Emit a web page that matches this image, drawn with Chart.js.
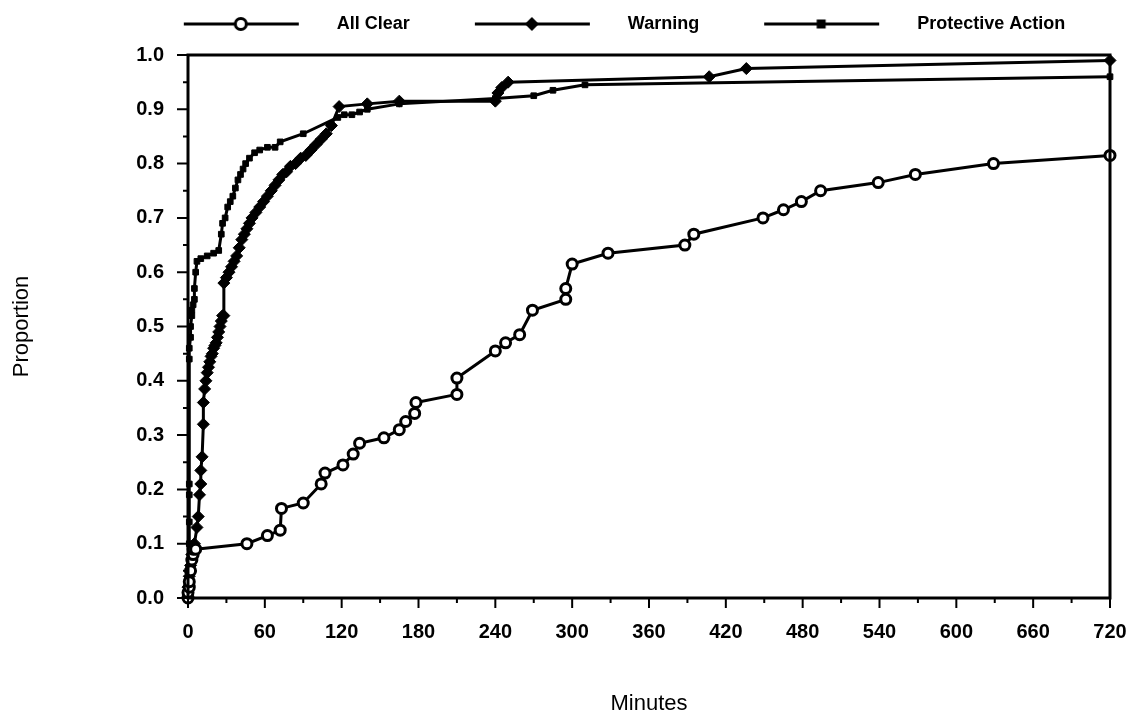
<!DOCTYPE html>
<html>
<head>
<meta charset="utf-8">
<script src="https://cdn.jsdelivr.net/npm/chart.js@4"></script>
<style>
  body { margin: 0; background: #fff; }
  #wrap { width: 1132px; height: 717px; position: relative; }
</style>
</head>
<body>
<div id="wrap"><canvas id="cdfChart"></canvas></div>
<script>
// cumulative proportions (minutes, proportion)
var allClearMin = [0, 0, 1, 1, 2, 3, 4, 4, 6, 46, 62, 72, 73, 90, 104, 107, 121, 129, 134, 153, 165, 170, 177, 178, 210, 210, 240, 248, 259, 269, 295, 295, 300, 328, 388, 395, 449, 465, 479, 494, 539, 568, 629, 720];
var allClearProp = [0, 0.01, 0.02, 0.03, 0.05, 0.07, 0.08, 0.09, 0.09, 0.10, 0.115, 0.125, 0.165, 0.175, 0.21, 0.23, 0.245, 0.265, 0.285, 0.295, 0.31, 0.325, 0.34, 0.36, 0.375, 0.405, 0.455, 0.47, 0.485, 0.53, 0.55, 0.57, 0.615, 0.635, 0.65, 0.67, 0.70, 0.715, 0.73, 0.75, 0.765, 0.78, 0.80, 0.815];

var warningMin = [0, 0, 1, 2, 3, 5, 7, 8, 9, 10, 10, 11, 12, 12, 13, 14, 15, 16, 17, 18, 19, 20, 21, 22, 23, 24, 25, 26, 27, 28, 28, 30, 32, 34, 36, 38, 40, 42, 44, 46, 48, 50, 53, 56, 59, 62, 65, 68, 71, 74, 77, 80, 84, 88, 92, 96, 100, 104, 108, 112, 118, 140, 165, 240, 242, 245, 250, 407, 436, 720];
var warningProp = [0, 0.02, 0.04, 0.06, 0.08, 0.10, 0.13, 0.15, 0.19, 0.21, 0.235, 0.26, 0.32, 0.36, 0.385, 0.40, 0.415, 0.425, 0.435, 0.445, 0.45, 0.46, 0.465, 0.47, 0.48, 0.49, 0.50, 0.51, 0.52, 0.52, 0.58, 0.59, 0.60, 0.61, 0.62, 0.63, 0.645, 0.66, 0.67, 0.68, 0.69, 0.70, 0.71, 0.72, 0.73, 0.74, 0.75, 0.76, 0.77, 0.78, 0.785, 0.795, 0.80, 0.81, 0.815, 0.825, 0.835, 0.845, 0.855, 0.87, 0.905, 0.91, 0.915, 0.915, 0.93, 0.94, 0.95, 0.96, 0.975, 0.99];

var protectMin = [0, 0, 0, 1, 1, 1, 1, 1, 1, 2, 2, 3, 3, 4, 5, 5, 6, 7, 10, 15, 20, 24, 26, 27, 29, 31, 33, 35, 37, 39, 41, 43, 45, 48, 52, 56, 62, 68, 72, 90, 117, 122, 128, 134, 140, 165, 240, 270, 285, 310, 720];
var protectProp = [0, 0.02, 0.05, 0.10, 0.14, 0.19, 0.21, 0.44, 0.46, 0.48, 0.50, 0.52, 0.53, 0.54, 0.55, 0.57, 0.60, 0.62, 0.625, 0.63, 0.635, 0.64, 0.67, 0.69, 0.70, 0.72, 0.73, 0.74, 0.755, 0.77, 0.78, 0.79, 0.80, 0.81, 0.82, 0.825, 0.83, 0.83, 0.84, 0.855, 0.885, 0.89, 0.89, 0.895, 0.90, 0.91, 0.92, 0.925, 0.935, 0.945, 0.96];

var seriesNames = ['All Clear', 'Warning', 'Protective Action'];
var xTickLabels = [0, 60, 120, 180, 240, 300, 360, 420, 480, 540, 600, 660, 720];

var FONT = "'Liberation Sans', Arial, sans-serif";

function toPoints(xs, ys) {
    var pts = [];
    for (var i = 0; i < xs.length; i++) {
        pts.push({x: xs[i], y: ys[i]});
    }
    return pts;
}

// legend icon: a line with the series marker in the middle
function makeIcon(style) {
    var c = document.createElement('canvas');
    c.width = 199;
    c.height = 20;
    var g = c.getContext('2d');
    g.strokeStyle = '#000';
    g.fillStyle = '#000';
    g.lineWidth = 3;
    g.beginPath();
    g.moveTo(55, 10);
    g.lineTo(170, 10);
    g.stroke();
    var cx = 112, cy = 10;
    g.beginPath();
    if (style === 'circle') {
        g.arc(cx, cy, 5.5, 0, Math.PI * 2);
        g.fillStyle = '#fff';
        g.fill();
        g.lineWidth = 3;
        g.stroke();
    } else if (style === 'rectRot') {
        g.moveTo(cx, cy - 7); g.lineTo(cx + 7, cy); g.lineTo(cx, cy + 7); g.lineTo(cx - 7, cy);
        g.closePath();
        g.fill();
    } else {
        g.rect(cx - 4.5, cy - 4.5, 9, 9);
        g.fill();
    }
    return c;
}

var legendIcons = [makeIcon('circle'), makeIcon('rectRot'), makeIcon('rect')];

// frame round the plot and major/minor tick marks
var frameTicks = {
    id: 'frameTicks',
    afterDatasetsDraw: function(chart) {
        var ctx = chart.ctx, a = chart.chartArea;
        var xs = chart.scales.x, ys = chart.scales.y;
        ctx.save();
        ctx.strokeStyle = '#000';
        ctx.lineWidth = 3;
        ctx.strokeRect(a.left, a.top, a.right - a.left, a.bottom - a.top);
        ctx.lineWidth = 2;
        ctx.beginPath();
        xs.ticks.forEach(function(t) {
            var px = xs.getPixelForValue(t.value);
            var len = t.value % 60 === 0 ? 10 : 5;
            ctx.moveTo(px, a.bottom);
            ctx.lineTo(px, a.bottom + len);
        });
        ys.ticks.forEach(function(t) {
            var py = ys.getPixelForValue(t.value);
            var len = Math.round(t.value * 100) % 10 === 0 ? 11 : 5;
            ctx.moveTo(a.left - len, py);
            ctx.lineTo(a.left, py);
        });
        ctx.stroke();
        ctx.restore();
    }
};

// extra space under legend and nudge it right like the original
var legendSpace = {
    id: 'legendSpace',
    beforeInit: function(chart) {
        var fit = chart.legend.fit;
        chart.legend.fit = function() {
            fit.bind(chart.legend)();
            this.height += 12;
        };
    },
    afterLayout: function(chart) {
        chart.legend.left += 31;
        chart.legend.right += 31;
    }
};

function makeSet(i, xs, ys, style, radius, fill) {
    return {
        label: seriesNames[i],
        data: toPoints(xs, ys),
        showLine: true,
        borderColor: '#000',
        borderWidth: 3,
        pointStyle: style,
        pointRadius: radius,
        pointBackgroundColor: fill,
        pointBorderColor: '#000',
        pointBorderWidth: style === 'circle' ? 3 : 1,
        clip: false
    };
}

var ctx = document.getElementById('cdfChart').getContext('2d');
new Chart(ctx, {
    type: 'scatter',
    data: {
        datasets: [
            makeSet(0, allClearMin, allClearProp, 'circle', 5, '#fff'),
            makeSet(1, warningMin, warningProp, 'rectRot', 6, '#000'),
            makeSet(2, protectMin, protectProp, 'rect', 4, '#000')
        ]
    },
    options: {
        responsive: true,
        maintainAspectRatio: false,
        animation: false,
        layout: { padding: { top: 5, left: 0, right: 0, bottom: 0 } },
        plugins: {
            tooltip: { enabled: false },
            legend: {
                position: 'top',
                labels: {
                    usePointStyle: true,
                    pointStyleWidth: 199,
                    padding: 10,
                    color: '#000',
                    font: { family: FONT, size: 18, weight: 'bold' },
                    generateLabels: function(chart) {
                        var items = Chart.defaults.plugins.legend.labels.generateLabels(chart);
                        return items.map(function(item, i) {
                            item.pointStyle = legendIcons[i];
                            return item;
                        });
                    }
                }
            }
        },
        scales: {
            x: {
                type: 'linear',
                min: 0,
                max: 720,
                grid: { display: false, drawTicks: false },
                border: { display: false },
                ticks: {
                    stepSize: 30,
                    padding: 22,
                    color: '#000',
                    maxRotation: 0,
                    autoSkip: false,
                    font: { family: FONT, size: 20, weight: 'bold' },
                    callback: function(v) {
                        return xTickLabels.indexOf(v) >= 0 ? String(v) : '';
                    }
                },
                title: {
                    display: true,
                    text: 'Minutes',
                    color: '#000',
                    font: { family: FONT, size: 22 },
                    padding: { top: 0, bottom: 0 }
                },
                afterFit: function(s) {
                    s.height = 119;
                    s.paddingLeft = 0;
                    s.paddingRight = 22;
                }
            },
            y: {
                min: 0,
                max: 1,
                grid: { display: false, drawTicks: false },
                border: { display: false },
                ticks: {
                    stepSize: 0.05,
                    padding: 24,
                    color: '#000',
                    autoSkip: false,
                    font: { family: FONT, size: 20, weight: 'bold' },
                    callback: function(v) {
                        return Math.round(v * 100) % 10 === 0 ? v.toFixed(1) : '';
                    }
                },
                title: {
                    display: true,
                    text: 'Proportion',
                    color: '#000',
                    font: { family: FONT, size: 22 },
                    padding: { top: 9, bottom: 0 }
                },
                afterFit: function(s) { s.width = 188; }
            }
        }
    },
    plugins: [frameTicks, legendSpace]
});
</script>
</body>
</html>
